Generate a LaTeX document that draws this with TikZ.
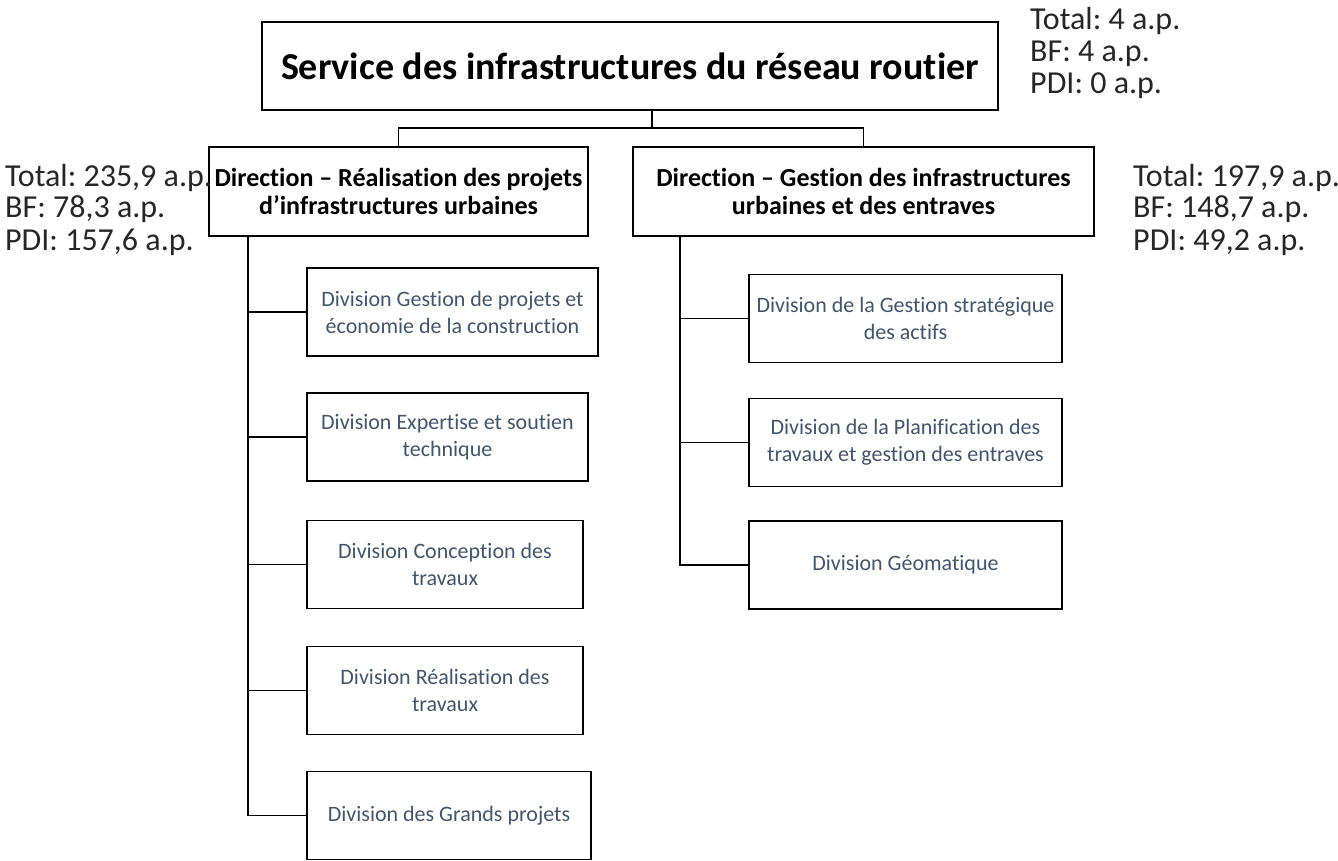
\documentclass[tikz,border=0pt]{standalone}
\usepackage{fontspec}
\setmainfont{Carlito}[Ligatures={NoCommon}]
\frenchspacing
\definecolor{divtext}{HTML}{44546A}
\definecolor{labtext}{HTML}{262626}
\tikzset{
  x=1pt, y=-1pt,
  box/.style={draw=black, line width=1.6pt, rectangle, inner sep=0pt, align=center},
  titlebox/.style={box, font=\fontsize{38}{46}\selectfont\bfseries},
  dirbox/.style={box, minimum height=89pt, font=\fontsize{26}{28}\selectfont\bfseries},
  divbox/.style={box, minimum height=88pt, text=divtext, font=\fontsize{22}{27}\selectfont},
  lab/.style={anchor=base west, inner sep=0pt, text=labtext, font=\fontsize{32}{32}\selectfont},
  conn/.style={line width=1.6pt, draw=black}
}
\begin{document}
\begin{tikzpicture}
\useasboundingbox (0,0) rectangle (1338,861);
% top
\node[titlebox, minimum width=736pt, minimum height=88pt] (top) at (630,66) {Service des infrastructures du réseau routier};
% directions
\node[dirbox, minimum width=379pt] (ldir) at (398.5,191.5) {Direction – Réalisation des projets\\d’infrastructures urbaines};
\node[dirbox, minimum width=461pt] (rdir) at (863.5,191.5) {Direction – Gestion des infrastructures\\urbaines et des entraves};
% left divisions
\node[divbox, minimum width=291pt] (l1) at (452.5,312) {Division Gestion de projets et\\économie de la construction};
\node[divbox, minimum width=281pt] (l2) at (447.5,437) {Division Expertise et soutien\\technique};
\node[divbox, minimum width=276pt] (l3) at (445,564.5) {Division Conception des\\travaux};
\node[divbox, minimum width=276pt] (l4) at (445,690.5) {Division Réalisation des\\travaux};
\node[divbox, minimum width=284pt] (l5) at (449,815.5) {Division des Grands projets};
% right divisions
\node[divbox, minimum width=313pt] (r1) at (905.5,318.5) {Division de la Gestion stratégique\\des actifs};
\node[divbox, minimum width=313pt] (r2) at (905.5,442.5) {Division de la Planification des\\travaux et gestion des entraves};
\node[divbox, minimum width=313pt] (r3) at (905.5,565) {Division Géomatique};
% labels
\node[lab] (tt1) at (1030,30) {Total: 4 a.p.};
\node[lab] (tt2) at (1030,62) {BF: 4 a.p.};
\node[lab] (tt3) at (1030,94) {PDI: 0 a.p.};
\node[lab] (lt1) at (5,186) {Total: 235,9 a.p.};
\node[lab] (lt2) at (5,218) {BF: 78,3 a.p.};
\node[lab] (lt3) at (5,250) {PDI: 157,6 a.p.};
\node[lab] (rt1) at (1133,186) {Total: 197,9 a.p.};
\node[lab] (rt2) at (1133,218) {BF: 148,7 a.p.};
\node[lab] (rt3) at (1133,250) {PDI: 49,2 a.p.};
% connectors
\coordinate (j) at (652,128);
\coordinate (lv) at (248,236);
\coordinate (rv) at (680,236);
\draw[conn] (j |- top.south) -- (j);
\draw[conn] (ldir.north) |- (j) -| (rdir.north);
\draw[conn] (lv) |- (l5.west);
\draw[conn] (l1.west) -- (l1.west -| lv);
\draw[conn] (l2.west) -- (l2.west -| lv);
\draw[conn] (l3.west) -- (l3.west -| lv);
\draw[conn] (l4.west) -- (l4.west -| lv);
\draw[conn] (rv) |- (r3.west);
\draw[conn] (r1.west) -- (r1.west -| rv);
\draw[conn] (r2.west) -- (r2.west -| rv);
\end{tikzpicture}
\end{document}
